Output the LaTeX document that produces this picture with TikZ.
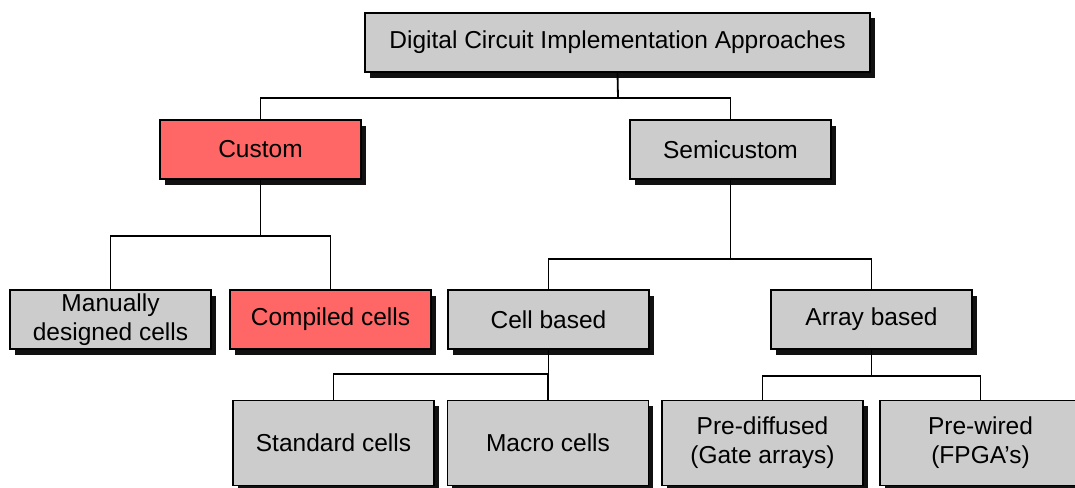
\documentclass[tikz,border=0pt]{standalone}
\usepackage{fontspec}
\setmainfont{Liberation Sans}
\usetikzlibrary{shadows}
\definecolor{boxgray}{HTML}{CCCCCC}
\definecolor{boxred}{HTML}{FF6666}
\definecolor{shade}{HTML}{111111}
\tikzset{
  box/.style={draw=black, line width=1.5pt, fill=boxgray, align=center,
    minimum width=201pt, minimum height=59pt, inner sep=2pt,
    font=\fontsize{24.5}{29}\selectfont,
    drop shadow={shadow xshift=4.5pt, shadow yshift=-5.5pt, fill=shade, opacity=1}},
  tallbox/.style={box, minimum height=85pt},
  hot/.style={fill=boxred},
  wire/.style={draw=black, line width=1.8pt}
}
\begin{document}
\begin{tikzpicture}[x=1pt, y=-1pt]
\useasboundingbox (0,0) rectangle (1075,487);
\clip (0,0) rectangle (1075,487);
\fill[white] (0,0) rectangle (1075,487);

% hierarchy boxes
\node[box, minimum width=505pt] (top) at (617.5,42.5) {Digital Circuit Implementation Approaches};
\node[box, hot] (custom) at (260.5,149.5) {Custom};
\node[box] (semi) at (730.5,149.5) {Semicustom};
\node[box] (manual) at (110.5,319.5) {Manually\\designed cells};
\node[box, hot] (compiled) at (330.5,319.5) {Compiled cells};
\node[box] (cellb) at (548.5,319.5) {Cell based};
\node[box] (arrayb) at (871.5,319.5) {Array based};
\node[tallbox] (std) at (333.5,443) {Standard cells};
\node[tallbox] (macro) at (548,443) {Macro cells};
\node[tallbox] (prediff) at (762.5,443) {Pre-diffused\\(Gate arrays)};
\node[tallbox] (prewired) at (980.5,443) {Pre-wired\\(FPGA's)};

% branch points
\coordinate (j0) at (618,98);
\coordinate (j1) at (260.5,236);
\coordinate (j2) at (730.5,259);
\coordinate (j3) at (548.5,374);
\coordinate (j4) at (871.5,376);

% tree connectors
\draw[wire] (top.south) -- (j0);
\draw[wire] (custom.north) |- (j0) -| (semi.north);
\draw[wire] (custom.south) -- (j1);
\draw[wire] (manual.north) |- (j1) -| (compiled.north);
\draw[wire] (semi.south) -- (j2);
\draw[wire] (cellb.north) |- (j2) -| (arrayb.north);
\draw[wire] (cellb.south) -- (j3);
\draw[wire] (std.north) |- (j3) -| (macro.north);
\draw[wire] (arrayb.south) -- (j4);
\draw[wire] (prediff.north) |- (j4) -| (prewired.north);
\end{tikzpicture}
\end{document}
